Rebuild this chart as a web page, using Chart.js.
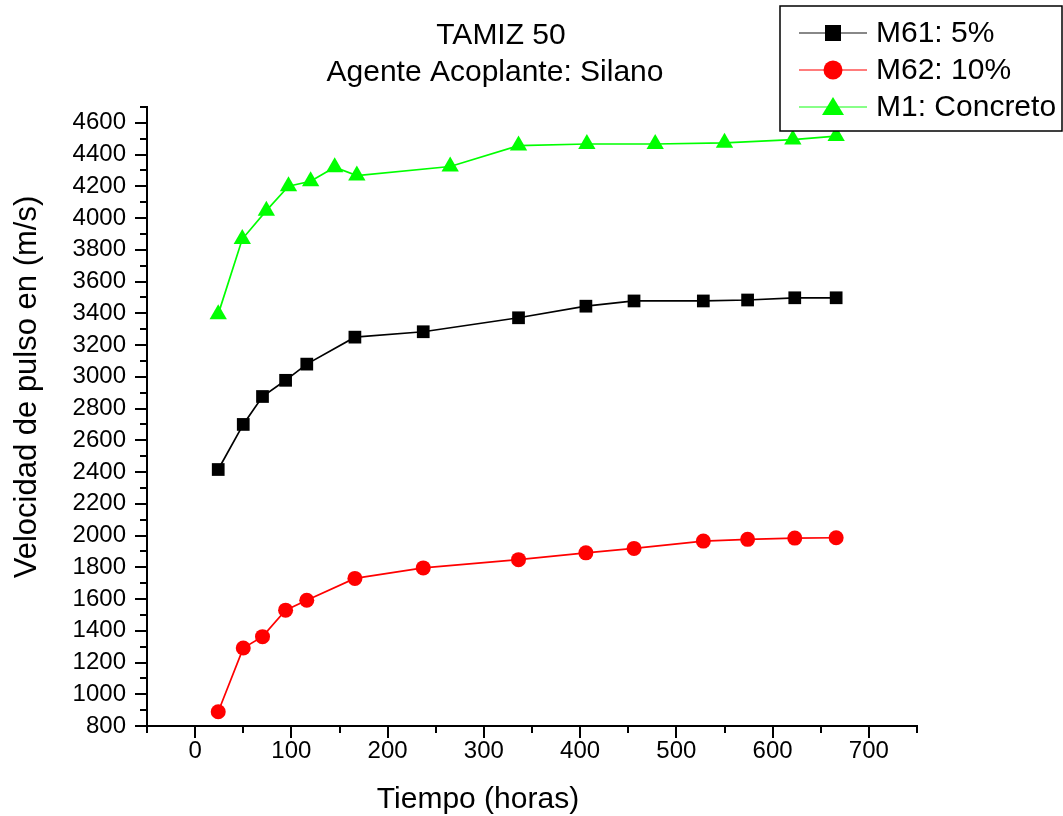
<!DOCTYPE html>
<html>
<head>
<meta charset="utf-8">
<title>TAMIZ 50</title>
<script src="https://cdn.jsdelivr.net/npm/chart.js@4"></script>
<style>
    html, body { margin: 0; padding: 0; background: #fff; }
    #wrap { width: 1063px; height: 816px; }
</style>
</head>
<body>
<div id="wrap"><canvas id="chart" width="1063" height="816"></canvas></div>
<script>
// Data
const horasM6 = [24, 50, 70, 94, 116, 166, 237, 336, 406, 456, 528, 574, 623, 666];
const velM61 = [2416, 2700, 2876, 2978, 3080, 3250, 3284, 3372, 3445, 3478, 3478, 3484, 3498, 3498];
const velM62 = [890, 1291, 1363, 1530, 1592, 1730, 1796, 1848, 1891, 1919, 1965, 1976, 1984, 1986];
const horasM1 = [24, 49, 74, 97, 120, 145, 168, 265, 336, 407, 478, 550, 621, 666];
const velM1 = [3395, 3868, 4047, 4201, 4232, 4321, 4268, 4325, 4457, 4467, 4467, 4474, 4495, 4517];

const seriesNames = ['M61: 5%', 'M62: 10%', 'M1: Concreto'];
const titleLines = ['TAMIZ 50', 'Agente Acoplante: Silano'];
const xTitle = 'Tiempo (horas)';
const yTitle = 'Velocidad de pulso en (m/s)';

const xMin = -50, xMax = 750, xStep = 50, xLabelStep = 100;
const yMin = 800, yMax = 4700, yStep = 100, yLabelStep = 200, yLabelMax = 4600;

const FONT = "'Liberation Sans', Arial, sans-serif";

function toPoints(xs, ys) {
    return xs.map((x, i) => ({ x: x, y: ys[i] }));
}

// Axes, ticks, titles and legend
const decoPlugin = {
    id: 'deco',
    afterDraw(chart) {
        const ctx = chart.ctx;
        const sx = chart.scales.x;
        const sy = chart.scales.y;
        const area = chart.chartArea;

        ctx.save();
        ctx.strokeStyle = '#000';
        ctx.lineWidth = 2;
        ctx.lineCap = 'square';

        // axis lines
        ctx.beginPath();
        ctx.moveTo(area.left, area.top);
        ctx.lineTo(area.left, area.bottom);
        ctx.lineTo(area.right, area.bottom);
        ctx.stroke();

        // x ticks (outward)
        ctx.lineCap = 'butt';
        for (let v = xMin; v <= xMax; v += xStep) {
            const px = Math.round(sx.getPixelForValue(v));
            const len = v % xLabelStep === 0 ? 12 : 7;
            ctx.beginPath();
            ctx.moveTo(px, area.bottom);
            ctx.lineTo(px, area.bottom + len);
            ctx.stroke();
        }
        // y ticks (outward)
        for (let v = yMin; v <= yMax; v += yStep) {
            const py = Math.round(sy.getPixelForValue(v));
            const len = v % yLabelStep === 0 ? 12 : 7;
            ctx.beginPath();
            ctx.moveTo(area.left, py);
            ctx.lineTo(area.left - len, py);
            ctx.stroke();
        }

        // chart title
        ctx.fillStyle = '#000';
        ctx.textAlign = 'center';
        ctx.textBaseline = 'middle';
        ctx.font = '30px ' + FONT;
        ctx.fillText(titleLines[0], 501, 36);
        ctx.fillText(titleLines[1], 495, 73);

        // axis titles
        ctx.font = '30px ' + FONT;
        ctx.fillText(xTitle, 478, 800);
        ctx.save();
        ctx.translate(27, 387);
        ctx.rotate(-Math.PI / 2);
        ctx.font = '31px ' + FONT;
        ctx.fillText(yTitle, 0, 0);
        ctx.restore();

        // legend box
        ctx.fillStyle = '#fff';
        ctx.fillRect(780, 6, 282, 125);
        ctx.lineWidth = 1.5;
        ctx.strokeStyle = '#000';
        ctx.strokeRect(780, 6, 282, 125);

        const rows = [33, 70, 107];
        const lineCols = ['#606060', '#ff5050', '#60ff60'];
        chart.data.datasets.forEach((ds, i) => {
            const y = rows[i];
            ctx.strokeStyle = lineCols[i];
            ctx.lineWidth = 1.4;
            ctx.beginPath();
            ctx.moveTo(799, y);
            ctx.lineTo(867, y);
            ctx.stroke();
            ctx.fillStyle = ds.pointBackgroundColor;
            ctx.beginPath();
            if (ds.pointStyle === 'rect') {
                ctx.rect(825, y - 8, 16, 16);
            } else if (ds.pointStyle === 'circle') {
                ctx.arc(833, y, 9.5, 0, Math.PI * 2);
            } else {
                ctx.moveTo(833, y - 10);
                ctx.lineTo(844, y + 8);
                ctx.lineTo(822, y + 8);
                ctx.closePath();
            }
            ctx.fill();
            ctx.fillStyle = '#000';
            ctx.textAlign = 'left';
            ctx.font = '30px ' + FONT;
            ctx.fillText(ds.label, 876, y + 1);
        });

        ctx.restore();
    }
};

const ctx = document.getElementById('chart').getContext('2d');
const chart = new Chart(ctx, {
    type: 'scatter',
    data: {
        datasets: [
            {
                label: seriesNames[0],
                data: toPoints(horasM6, velM61),
                showLine: true,
                borderColor: '#000000',
                borderWidth: 1.7,
                pointStyle: 'rect',
                pointRadius: 9,
                pointBackgroundColor: '#000000',
                pointBorderWidth: 0
            },
            {
                label: seriesNames[1],
                data: toPoints(horasM6, velM62),
                showLine: true,
                borderColor: '#ff0000',
                borderWidth: 1.7,
                pointStyle: 'circle',
                pointRadius: 7.5,
                pointBackgroundColor: '#ff0000',
                pointBorderWidth: 0
            },
            {
                label: seriesNames[2],
                data: toPoints(horasM1, velM1),
                showLine: true,
                borderColor: '#00ff00',
                borderWidth: 1.7,
                pointStyle: 'triangle',
                pointRadius: 10,
                pointBackgroundColor: '#00ff00',
                pointBorderWidth: 0
            }
        ]
    },
    options: {
        responsive: false,
        animation: false,
        devicePixelRatio: 1,
        layout: {
            padding: { left: 0, right: 146, top: 107, bottom: 0 }
        },
        plugins: {
            legend: { display: false },
            title: { display: false },
            tooltip: { enabled: false }
        },
        scales: {
            x: {
                type: 'linear',
                min: xMin,
                max: xMax,
                grid: { display: false, drawTicks: false },
                border: { display: false },
                ticks: {
                    stepSize: xStep,
                    autoSkip: false,
                    maxRotation: 0,
                    padding: 11,
                    color: '#000',
                    font: { family: FONT, size: 24 },
                    callback: function(value) {
                        return (value % xLabelStep === 0 && value >= 0 && value < xMax) ? String(value) : '';
                    }
                },
                afterFit: function(scale) { scale.height = 90; }
            },
            y: {
                type: 'linear',
                min: yMin,
                max: yMax,
                grid: { display: false, drawTicks: false },
                border: { display: false },
                ticks: {
                    stepSize: yStep,
                    autoSkip: false,
                    padding: 21,
                    color: '#000',
                    font: { family: FONT, size: 24 },
                    callback: function(value) {
                        return (value % yLabelStep === 0 && value <= yLabelMax) ? String(value) : '';
                    }
                },
                afterFit: function(scale) { scale.width = 147; }
            }
        }
    },
    plugins: [decoPlugin]
});
</script>
</body>
</html>
